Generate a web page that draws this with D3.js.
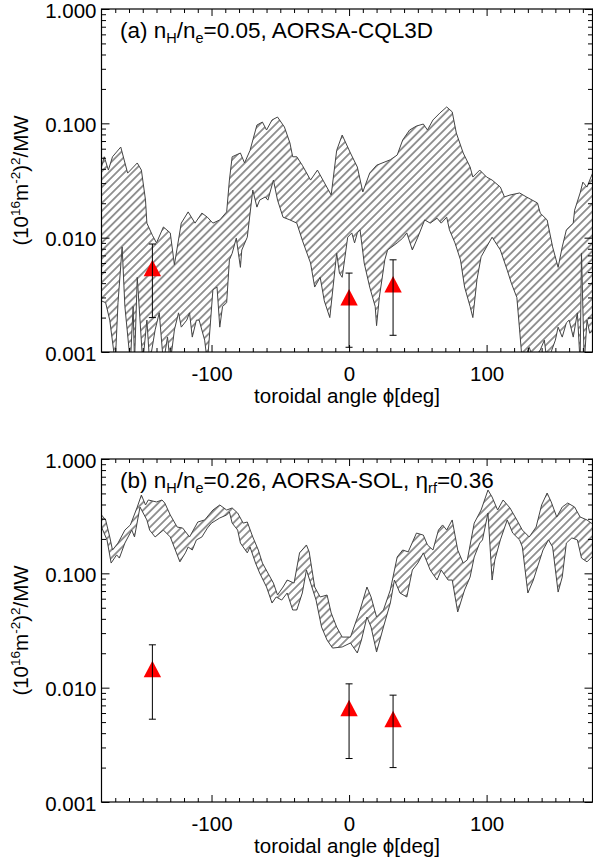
<!DOCTYPE html>
<html><head><meta charset="utf-8">
<script src="https://cdn.jsdelivr.net/npm/d3@7"></script>
<style>
body{margin:0;background:#fff;}
svg{display:block;}
text{font-family:"Liberation Sans",Arial,Helvetica,sans-serif;fill:#000;}
</style></head><body>
<svg id="chart" width="593" height="858"></svg>
<script>
// ---------- data ----------
// panel (a) band edges [phi(deg), value]
const upperA = [[-180,0.0415],[-178,0.051],[-175,0.039],[-172,0.051],[-166,0.062],[-161,0.0367],[-154,0.045],[-151,0.039],[-148,0.0213],[-147,0.0134],[-143,0.0105],[-140,0.0090],[-135,0.0124],[-130,0.011],[-127,0.0058],[-122,0.0134],[-117,0.0168],[-112,0.0134],[-107,0.0164],[-103,0.0151],[-99,0.0134],[-94,0.0143],[-89,0.0168],[-87,0.0319],[-85,0.051],[-79,0.055],[-76,0.045],[-72,0.058],[-67,0.0966],[-63,0.1026],[-60,0.0874],[-56,0.107],[-52,0.1135],[-47,0.0928],[-43,0.0673],[-41,0.051],[-38,0.051],[-34,0.043],[-28,0.0319],[-23,0.039],[-19,0.0319],[-13,0.0236],[-9,0.058],[-5,0.079],[1,0.055],[6,0.0415],[10,0.0251],[15,0.0367],[20,0.043],[30,0.048],[35,0.0528],[39,0.0715],[44,0.0874],[49,0.0947],[54,0.0986],[57,0.0874],[61,0.107],[66,0.123],[71,0.139],[75,0.126],[78,0.0822],[83,0.055],[88,0.0415],[90,0.0339],[95,0.039],[100,0.0339],[104,0.0319],[110,0.0277],[113,0.0227],[117,0.0236],[124,0.0246],[129,0.0227],[137,0.0201],[139,0.0164],[144,0.0143],[148,0.0083],[152,0.0055],[155,0.0083],[158,0.0117],[163,0.0134],[164,0.0174],[168,0.0246],[170,0.0306],[173,0.0277],[175,0.0319],[178,0.039]];
const lowerA = [[-180,0.0028],[-177,0.0027],[-174,0.0019],[-170,0.0008],[-168,0.0027],[-165,0.0083],[-163,0.0025],[-159,0.0008],[-157,0.0025],[-156,0.0008],[-154,0.0045],[-150,0.0008],[-147,0.0019],[-145,0.0008],[-141,0.00156],[-138,0.0022],[-135,0.0008],[-132,0.00135],[-130,0.0008],[-127,0.00156],[-124,0.0022],[-122,0.00165],[-118,0.0019],[-116,0.0022],[-114,0.00135],[-111,0.0019],[-109,0.0019],[-105,0.00127],[-103,0.0008],[-99,0.0035],[-96,0.0037],[-94,0.00165],[-92,0.0025],[-89,0.0027],[-87,0.0064],[-85,0.0073],[-82,0.0099],[-79,0.0055],[-78,0.0078],[-74,0.0101],[-70,0.0261],[-67,0.0185],[-65,0.0213],[-61,0.0227],[-59,0.0213],[-55,0.0319],[-52,0.0213],[-48,0.0151],[-43,0.0143],[-38,0.0134],[-34,0.0095],[-28,0.0060],[-25,0.0037],[-21,0.0045],[-18,0.0028],[-14,0.0020],[-9,0.0073],[-7,0.0049],[-5,0.0045],[-1,0.0101],[2,0.011],[4,0.0090],[6,0.011],[8,0.0117],[11,0.0060],[15,0.0037],[19,0.0025],[20,0.0017],[22,0.0030],[26,0.0064],[28,0.0078],[35,0.0090],[39,0.0099],[42,0.011],[46,0.0078],[50,0.0101],[55,0.0143],[59,0.0134],[64,0.0148],[67,0.0134],[71,0.0151],[73,0.0117],[77,0.0090],[81,0.0064],[84,0.0037],[88,0.0025],[90,0.0020],[93,0.0043],[96,0.0068],[100,0.0083],[104,0.0101],[110,0.0078],[115,0.0052],[118,0.0040],[122,0.0030],[124,0.00156],[126,0.0008],[131,0.0011],[135,0.0008],[142,0.00127],[144,0.0008],[150,0.00127],[152,0.00165],[155,0.00135],[158,0.0018],[160,0.0019],[163,0.00135],[166,0.0022],[168,0.0008],[169,0.0073],[171,0.0008],[173,0.0019],[175,0.00146],[178,0.00156]];
// panel (b) band edges [phi(deg), value]
const upperB = [[-180,0.324],[-177,0.293],[-174,0.208],[-172,0.160],[-168,0.184],[-163,0.239],[-159,0.265],[-154,0.380],[-151,0.484],[-148,0.396],[-146,0.438],[-140,0.421],[-136,0.438],[-134,0.412],[-130,0.324],[-125,0.254],[-121,0.249],[-116,0.208],[-114,0.230],[-110,0.281],[-105,0.293],[-99,0.358],[-94,0.396],[-89,0.358],[-85,0.373],[-81,0.337],[-77,0.275],[-74,0.281],[-70,0.208],[-66,0.160],[-63,0.123],[-59,0.1006],[-55,0.0822],[-52,0.0646],[-48,0.0759],[-45,0.0874],[-40,0.0822],[-36,0.151],[-31,0.177],[-29,0.154],[-25,0.0759],[-21,0.0621],[-16,0.0646],[-13,0.045],[-9,0.0339],[-5,0.0277],[1,0.0277],[8,0.0478],[13,0.0759],[16,0.0621],[20,0.0415],[25,0.0478],[30,0.0715],[35,0.139],[39,0.160],[43,0.154],[49,0.225],[54,0.216],[57,0.177],[61,0.160],[65,0.239],[68,0.265],[71,0.239],[75,0.293],[79,0.160],[83,0.123],[86,0.131],[91,0.275],[96,0.358],[101,0.535],[104,0.465],[108,0.358],[112,0.438],[117,0.373],[122,0.293],[126,0.239],[131,0.208],[136,0.254],[140,0.396],[144,0.504],[147,0.421],[151,0.311],[155,0.380],[159,0.412],[164,0.380],[168,0.311],[173,0.293],[178,0.265]];
const lowerB = [[-180,0.254],[-176,0.196],[-173,0.123],[-169,0.145],[-167,0.136],[-163,0.184],[-158,0.239],[-156,0.208],[-152,0.380],[-147,0.293],[-145,0.239],[-141,0.208],[-135,0.239],[-130,0.208],[-123,0.126],[-119,0.151],[-117,0.170],[-114,0.160],[-111,0.196],[-107,0.208],[-103,0.249],[-100,0.275],[-94,0.305],[-89,0.324],[-87,0.344],[-85,0.275],[-81,0.239],[-79,0.184],[-74,0.151],[-72,0.170],[-68,0.123],[-65,0.1006],[-60,0.0759],[-56,0.055],[-53,0.0621],[-49,0.0584],[-45,0.0673],[-41,0.0478],[-38,0.0478],[-34,0.0673],[-31,0.107],[-24,0.0584],[-20,0.0339],[-16,0.0261],[-12,0.0222],[-5,0.0227],[1,0.0246],[6,0.0201],[9,0.0261],[13,0.0415],[16,0.0339],[20,0.0205],[25,0.0339],[30,0.055],[33,0.0874],[37,0.0673],[42,0.0621],[46,0.107],[50,0.123],[54,0.151],[59,0.107],[64,0.0874],[67,0.107],[72,0.0874],[75,0.0874],[79,0.0459],[84,0.0715],[88,0.0928],[91,0.139],[95,0.184],[97,0.196],[101,0.337],[104,0.0874],[106,0.131],[110,0.196],[115,0.293],[119,0.225],[124,0.196],[126,0.170],[130,0.0673],[134,0.0874],[137,0.1135],[141,0.160],[145,0.196],[148,0.170],[152,0.0686],[155,0.0928],[158,0.184],[162,0.204],[166,0.196],[169,0.136],[173,0.126],[178,0.145]];
// measurements (phi, value, error)
const measPhi = [-143, 0, 32];
const measA = [0.0054, 0.0030, 0.0039];
const errA  = [0.0034, 0.0019, 0.0025];
const measB = [0.0145, 0.0066, 0.0053];
const errB  = [0.0092, 0.0042, 0.0033];
// ticks
const xTickValues = [-100, 0, 100];
const xTickLabels = ["-100", "0", "100"];
const yTickValues = [0.001, 0.01, 0.1, 1];
const yTickLabels = ["0.001", "0.010", "0.100", "1.000"];
const titleA = [["(a) n"],["H","sub"],["/n"],["e","sub"],["=0.05, AORSA-CQL3D"]];
const titleB = [["(b) n"],["H","sub"],["/n"],["e","sub"],["=0.26, AORSA-SOL, η"],["rf","sub"],["=0.36"]];
const xTitle = "toroidal angle ϕ[deg]";
const yTitle = [["(10"],["16","sup"],["m"],["-2","sup"],[")"],["2","sup"],["/MW"]];

// ---------- layout ----------
const svg = d3.select("#chart");
const L = 101.5, R = 592.5, PH = 343;
const panelTops = [9, 459];
const x = d3.scaleLinear().domain([-180, 177]).range([L, R]);
const xMinor = d3.range(-170, 171, 10).filter(v => v % 100 !== 0);
const yMinor = [];
[0.001, 0.01, 0.1].forEach(d => { for (let k = 2; k <= 9; k++) yMinor.push(+(d * k).toPrecision(3)); });

const defs = svg.append("defs");
const pat = defs.append("pattern").attr("id", "hatch").attr("patternUnits", "userSpaceOnUse")
  .attr("width", 5.6).attr("height", 10).attr("patternTransform", "rotate(45)");
pat.append("line").attr("x1", 2.8).attr("y1", -1).attr("x2", 2.8).attr("y2", 11)
  .attr("stroke", "#222").attr("stroke-width", 0.95);

function addRich(sel, parts, size, subSize, shift) {
  let state = 0;
  parts.forEach(p => {
    const t = sel.append("tspan").text(p[0]);
    const want = p[1] === "sub" ? shift : p[1] === "sup" ? -shift : 0;
    if (want !== state) { t.attr("dy", want - state); state = want; }
    t.attr("font-size", p[1] ? subSize : size);
  });
}

function drawPanel(idx, upper, lower, meas, err, title) {
  const top = panelTops[idx], bottom = top + PH;
  const y = d3.scaleLog().domain([0.001, 1]).range([bottom, top]);
  const g = svg.append("g");
  const cid = "clip" + idx;
  defs.append("clipPath").attr("id", cid).append("rect")
    .attr("x", L).attr("y", top).attr("width", R - L).attr("height", PH);

  const pts = upper.concat(lower.slice().reverse());
  const line = d3.line().x(d => x(d[0])).y(d => y(d[1]));
  g.append("path").attr("clip-path", `url(#${cid})`)
    .attr("d", line(pts) + "Z")
    .attr("fill", "url(#hatch)").attr("stroke", "#444").attr("stroke-width", 1)
    .attr("stroke-linejoin", "round");

  // axes
  const ax = (axis, tx, ty) => {
    const a = g.append("g").attr("transform", `translate(${tx},${ty})`).call(axis);
    a.select(".domain").remove();
    a.selectAll("line").attr("stroke", "#000");
    a.selectAll("text").attr("font-size", 20.5).attr("fill", "#000")
      .attr("font-family", '"Liberation Sans",Arial,sans-serif');
    return a;
  };
  ax(d3.axisBottom(x).tickValues(xTickValues).tickSize(-7).tickPadding(14)
      .tickFormat((d, i) => xTickLabels[i]), 0, bottom);
  ax(d3.axisBottom(x).tickValues(xMinor).tickSize(-4).tickFormat(""), 0, bottom);
  ax(d3.axisTop(x).tickValues(xTickValues).tickSize(-7).tickFormat(""), 0, top);
  ax(d3.axisTop(x).tickValues(xMinor).tickSize(-4).tickFormat(""), 0, top);
  const yl = ax(d3.axisLeft(y).tickValues(yTickValues).tickSize(-8).tickPadding(5)
      .tickFormat((d, i) => yTickLabels[i]), L, 0);
  yl.selectAll("text").attr("dy", "0.4em");
  ax(d3.axisLeft(y).tickValues(yMinor).tickSize(-4.5).tickFormat(""), L, 0);
  ax(d3.axisRight(y).tickValues(yTickValues).tickSize(-8).tickFormat(""), R, 0);
  ax(d3.axisRight(y).tickValues(yMinor).tickSize(-4.5).tickFormat(""), R, 0);

  g.append("rect").attr("x", L).attr("y", top).attr("width", R - L).attr("height", PH)
    .attr("fill", "none").attr("stroke", "#000").attr("stroke-width", 1.2);

  // measurements
  const m = g.append("g");
  measPhi.forEach((p, i) => {
    const cx = x(p), cy = y(meas[i]);
    m.append("path").attr("d", "M0,-8.5L8.7,8L-8.7,8Z")
      .attr("transform", `translate(${cx},${cy})`).attr("fill", "#ff0000");
    const y1 = y(meas[i] + err[i]), y2 = y(meas[i] - err[i]);
    m.append("line").attr("x1", cx).attr("x2", cx).attr("y1", y1).attr("y2", y2).attr("stroke", "#000").attr("stroke-width", 1);
    [y1, y2].forEach(yy => m.append("line").attr("x1", cx - 3.5).attr("x2", cx + 3.5)
      .attr("y1", yy).attr("y2", yy).attr("stroke", "#000").attr("stroke-width", 1));
  });

  // titles
  const t = g.append("text").attr("x", 120).attr("y", top + 29);
  addRich(t, title, 22.5, 14.5, 5);
  g.append("text").attr("x", (L + R) / 2).attr("y", bottom + 51).attr("text-anchor", "middle")
    .attr("font-size", 20.5).text(xTitle);
  const yt = g.append("text").attr("transform", `translate(28,${top + PH / 2}) rotate(-90)`)
    .attr("text-anchor", "middle");
  addRich(yt, yTitle, 20.5, 13.5, 8);
}

drawPanel(0, upperA, lowerA, measA, errA, titleA);
drawPanel(1, upperB, lowerB, measB, errB, titleB);
</script>
</body></html>
